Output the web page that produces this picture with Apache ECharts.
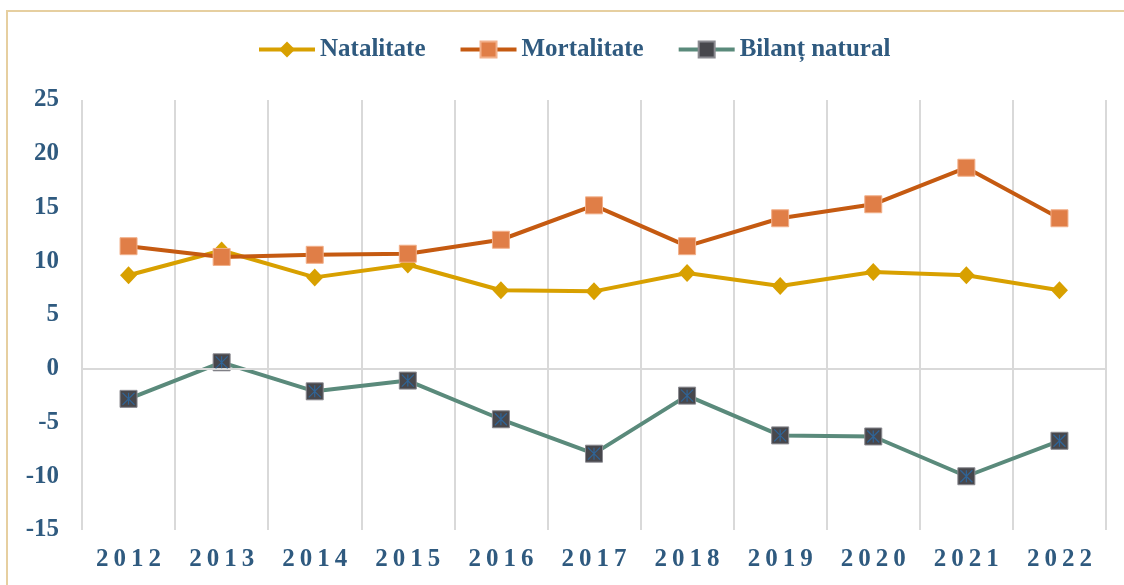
<!DOCTYPE html>
<html>
<head>
<meta charset="utf-8">
<script src="https://cdn.jsdelivr.net/npm/echarts@6/dist/echarts.min.js"></script>
<style>
  html, body { margin: 0; padding: 0; background: #fff; }
  #chart { position: absolute; left: 0; top: 0; width: 1124px; height: 585px; }
  #frame {
    position: absolute; left: 6px; top: 10px; width: 1130px; height: 590px;
    border-top: 2px solid #E6CFA0; border-left: 2px solid #E6CFA0;
    pointer-events: none;
  }
</style>
</head>
<body>
<div id="chart"></div>
<div id="frame"></div>
<script>
// values
const years = ['2012', '2013', '2014', '2015', '2016', '2017', '2018', '2019', '2020', '2021', '2022'];
const natalitate = [8.7, 11.0, 8.5, 9.7, 7.3, 7.2, 8.9, 7.7, 9.0, 8.7, 7.3];
const mortalitate = [11.4, 10.4, 10.6, 10.7, 12.0, 15.2, 11.4, 14.0, 15.3, 18.7, 14.0];
const bilant = [-2.8, 0.6, -2.1, -1.1, -4.7, -7.9, -2.5, -6.2, -6.3, -10.0, -6.7];
const yTicks = [-15, 25, 5]; // min, max, interval

const FONT = '"Liberation Serif", "DejaVu Serif", serif';
const TEXT = '#2F5A7F';

const chart = echarts.init(document.getElementById('chart'));

chart.setOption({
  animation: false,
  legend: {
    top: 32,
    left: 252,
    itemWidth: 56,
    itemHeight: 20,
    itemGap: 33,
    data: ['Natalitate', 'Mortalitate', 'Bilanț natural'],
    lineStyle: { width: 4 },
    textStyle: { fontFamily: FONT, fontWeight: 'bold', fontSize: 25, color: TEXT }
  },
  grid: { left: 82, right: 18, top: 100, bottom: 55 },
  xAxis: {
    type: 'category',
    data: years,
    boundaryGap: true,
    axisLine: { show: false },
    axisTick: { show: false },
    splitLine: { show: true, interval: 0, lineStyle: { color: '#D9D9D9', width: 2 } },
    axisLabel: {
      interval: 0,
      margin: 17,
      formatter: v => v.split('').map(c => '{d|' + c + '}').join(''),
      rich: {
        d: { fontFamily: FONT, fontWeight: 'bold', fontSize: 25, color: TEXT, padding: [0, 2.5] }
      }
    }
  },
  yAxis: {
    type: 'value',
    min: yTicks[0],
    max: yTicks[1],
    interval: yTicks[2],
    axisLine: { show: false },
    axisTick: { show: false },
    splitLine: { show: false },
    axisLabel: { margin: 23, fontFamily: FONT, fontWeight: 'bold', fontSize: 25, color: TEXT }
  },
  series: [
    {
      name: 'Natalitate',
      type: 'line',
      data: natalitate,
      symbol: 'diamond',
      symbolSize: [17, 18],
      lineStyle: { color: '#D8A000', width: 4 },
      itemStyle: { color: '#D8A000' },
      markLine: {
        silent: true,
        symbol: 'none',
        label: { show: false },
        lineStyle: { color: '#D9D9D9', width: 2, type: 'solid' },
        data: [{ yAxis: 0 }]
      }
    },
    {
      name: 'Mortalitate',
      type: 'line',
      data: mortalitate,
      symbol: 'rect',
      symbolSize: 17,
      lineStyle: { color: '#C55A11', width: 4 },
      itemStyle: { color: '#E07E47', borderColor: '#F2B08A', borderWidth: 1 }
    },
    {
      name: 'Bilanț natural',
      type: 'line',
      data: bilant,
      symbol: 'rect',
      symbolSize: 17,
      lineStyle: { color: '#5A8A7B', width: 4 },
      itemStyle: { color: '#47474C', borderColor: '#8A8A90', borderWidth: 1 }
    },
    {
      name: 'Bilanț natural',
      type: 'line',
      data: bilant,
      symbol: 'path://M0,0L10,10M10,0L0,10M5,0L5,10',
      symbolSize: 12,
      showSymbol: true,
      lineStyle: { width: 0, opacity: 0 },
      itemStyle: { color: 'none', borderColor: '#2F6497', borderWidth: 1.2 },
      z: 5
    }
  ]
});
</script>
</body>
</html>
